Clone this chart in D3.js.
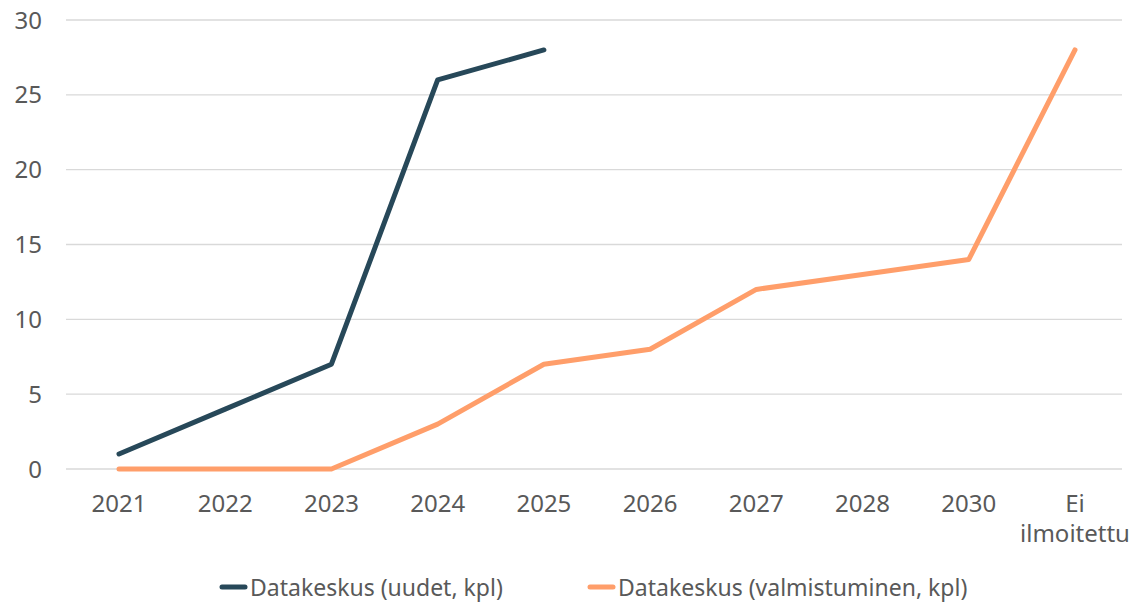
<!DOCTYPE html>
<html>
<head>
<meta charset="utf-8">
<script src="https://cdn.jsdelivr.net/npm/d3@7"></script>
<style>
  body { margin: 0; background: #fff; }
  text { font-family: "Noto Sans", sans-serif; fill: #595959; }
</style>
</head>
<body>
<div id="chart"></div>
<script>
const categories = ["2021", "2022", "2023", "2024", "2025", "2026", "2027", "2028", "2030", "Ei ilmoitettu"];
const uudet = [1, 4, 7, 26, 28];
const valmistuminen = [0, 0, 0, 3, 7, 8, 12, 13, 14, 28];
const yTicks = [0, 5, 10, 15, 20, 25, 30];
const seriesNames = ["Datakeskus (uudet, kpl)", "Datakeskus (valmistuminen, kpl)"];
const colors = ["#274859", "#ff9e6a"];

const W = 1130, H = 602;
const svg = d3.select("#chart").append("svg")
  .attr("width", W)
  .attr("height", H);

const x = d3.scalePoint().domain(categories).range([119, 1075]);
const y = d3.scaleLinear().domain([0, 30]).range([469, 20]);

// gridlines
svg.append("g")
  .selectAll("line")
  .data(yTicks)
  .enter()
  .append("line")
  .attr("x1", 66).attr("x2", 1122)
  .attr("y1", d => y(d)).attr("y2", d => y(d))
  .attr("stroke", "#d9d9d9")
  .attr("stroke-width", 1.3);

// y labels
svg.append("g")
  .selectAll("text")
  .data(yTicks)
  .enter()
  .append("text")
  .attr("x", 42)
  .attr("y", d => y(d) + 8.5)
  .attr("text-anchor", "end")
  .attr("font-size", 24)
  .text(d => d);

// x labels
const xl = svg.append("g")
  .selectAll("text")
  .data(categories)
  .enter()
  .append("text")
  .attr("x", d => x(d))
  .attr("y", 512)
  .attr("text-anchor", "middle")
  .attr("font-size", 24);
xl.each(function(d) {
  const parts = d === "Ei ilmoitettu" ? ["Ei", "ilmoitettu"] : [d];
  d3.select(this).selectAll("tspan")
    .data(parts)
    .enter()
    .append("tspan")
    .attr("x", x(d))
    .attr("dy", (p, i) => i === 0 ? 0 : 30)
    .text(p => p);
});

const line = d3.line()
  .x((d, i) => x(categories[i]))
  .y(d => y(d));

[uudet, valmistuminen].forEach((s, k) => {
  svg.append("path")
    .datum(s)
    .attr("d", line)
    .attr("fill", "none")
    .attr("stroke", colors[k])
    .attr("stroke-width", 5)
    .attr("stroke-linejoin", "round")
    .attr("stroke-linecap", "round");
});

// legend
const legendX = [222, 590];
seriesNames.forEach((name, k) => {
  const g = svg.append("g").attr("transform", `translate(${legendX[k]},587)`);
  g.append("line")
    .attr("x1", 0).attr("x2", 23)
    .attr("stroke", colors[k])
    .attr("stroke-width", 5)
    .attr("stroke-linecap", "round");
  g.append("text")
    .attr("x", 28)
    .attr("y", 9)
    .attr("font-size", 23)
    .text(name);
});
</script>
</body>
</html>
